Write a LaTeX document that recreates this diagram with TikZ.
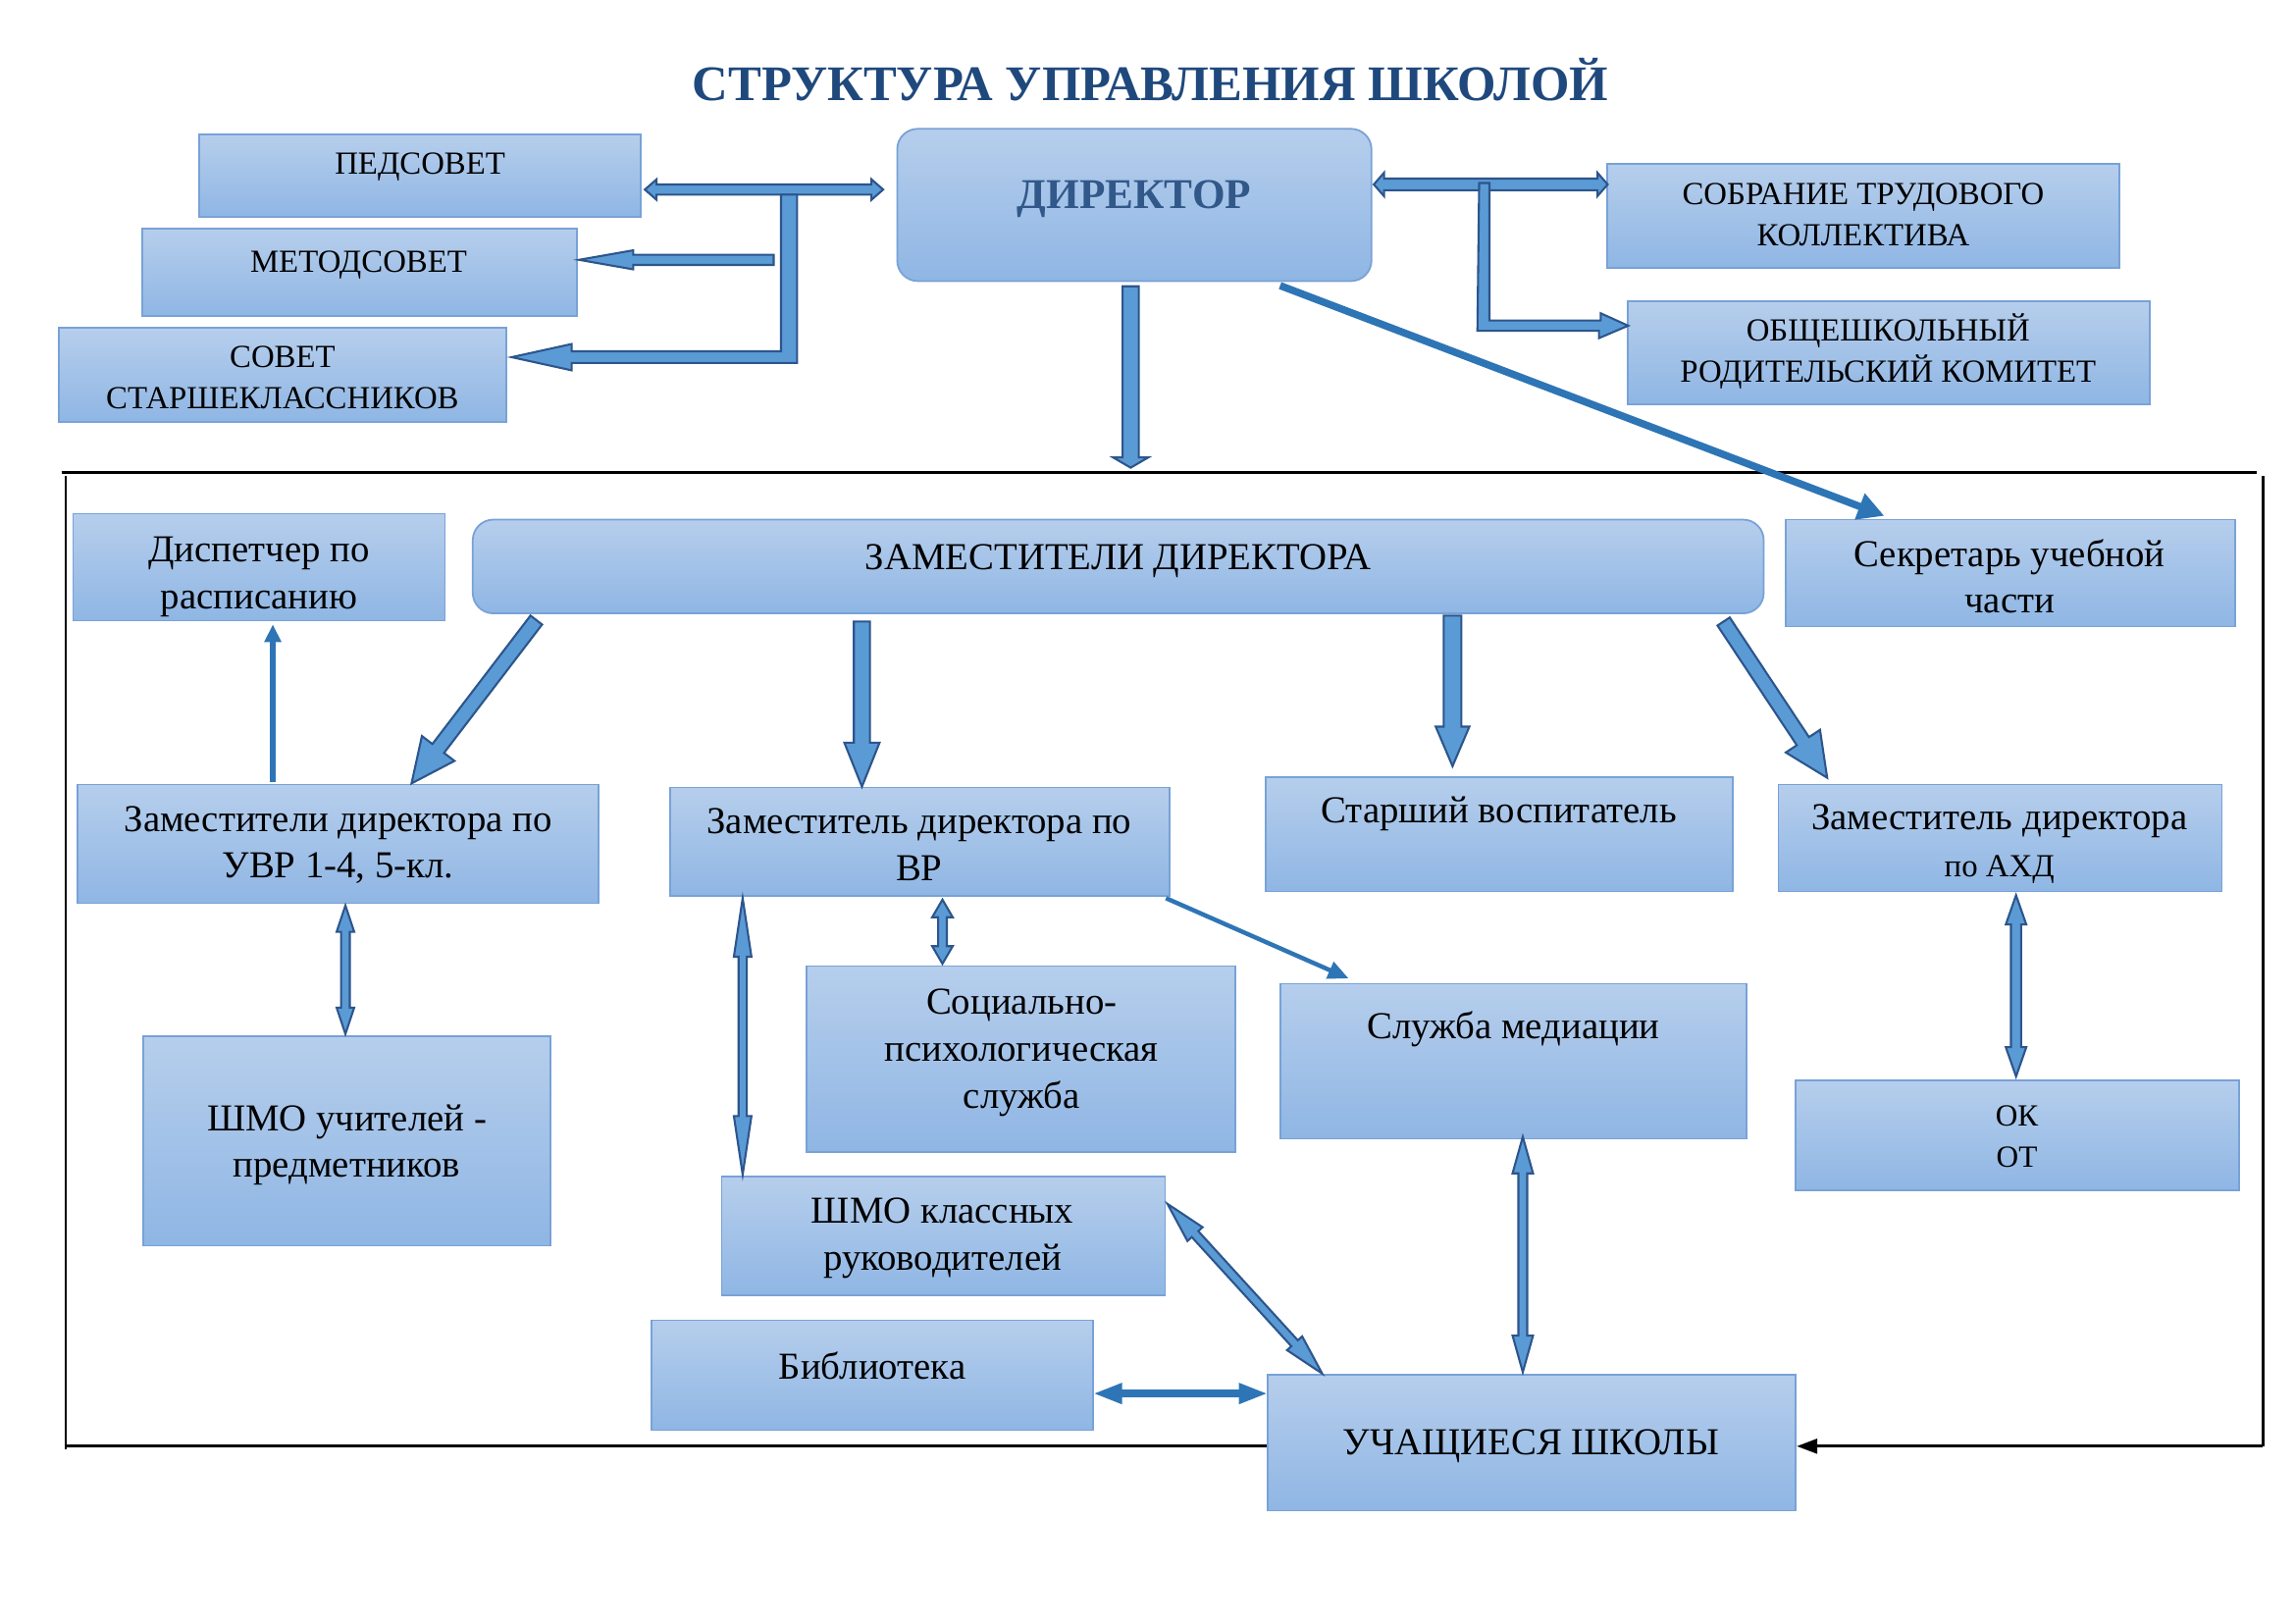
\documentclass[tikz,border=0pt]{standalone}
\usepackage{fontspec}
\setmainfont{Liberation Serif}
\usetikzlibrary{calc,arrows.meta}
\definecolor{boxtop}{RGB}{182,206,236}
\definecolor{boxbot}{RGB}{143,182,228}
\definecolor{boxline}{RGB}{120,162,215}
\definecolor{arrfill}{RGB}{91,155,213}
\definecolor{arrline}{RGB}{45,85,140}
\definecolor{solidarr}{RGB}{46,117,182}
\definecolor{titlecol}{RGB}{31,73,125}
\definecolor{dircol}{RGB}{50,88,138}
\newdimen\bxa \newdimen\bya \newdimen\bxb \newdimen\byb
% single-headed block arrow: [opts]{start}{end}{shaft half}{head half}{head length}
\newcommand\barrow[6][]{%
  \path ($#2$) coordinate (ba-s) ($#3$) coordinate (ba-e);
  \pgfextractx{\bxa}{\pgfpointanchor{ba-s}{center}}%
  \pgfextracty{\bya}{\pgfpointanchor{ba-s}{center}}%
  \pgfextractx{\bxb}{\pgfpointanchor{ba-e}{center}}%
  \pgfextracty{\byb}{\pgfpointanchor{ba-e}{center}}%
  \pgfmathsetmacro\baang{atan2(\byb-\bya,\bxb-\bxa)}%
  \pgfmathsetmacro\balen{veclen(\bxb-\bxa,\byb-\bya)}%
  \begin{scope}[shift={(ba-s)},rotate=\baang]
    \filldraw[blockarr,#1] (0pt,#4) -- (\balen pt-#6,#4) -- (\balen pt-#6,#5)
      -- (\balen pt,0pt) -- (\balen pt-#6,-#5) -- (\balen pt-#6,-#4) -- (0pt,-#4) -- cycle;
  \end{scope}}
% double-headed block arrow
\newcommand\dbarrow[6][]{%
  \path ($#2$) coordinate (ba-s) ($#3$) coordinate (ba-e);
  \pgfextractx{\bxa}{\pgfpointanchor{ba-s}{center}}%
  \pgfextracty{\bya}{\pgfpointanchor{ba-s}{center}}%
  \pgfextractx{\bxb}{\pgfpointanchor{ba-e}{center}}%
  \pgfextracty{\byb}{\pgfpointanchor{ba-e}{center}}%
  \pgfmathsetmacro\baang{atan2(\byb-\bya,\bxb-\bxa)}%
  \pgfmathsetmacro\balen{veclen(\bxb-\bxa,\byb-\bya)}%
  \begin{scope}[shift={(ba-s)},rotate=\baang]
    \filldraw[blockarr,#1] (0pt,0pt) -- (#6,#5) -- (#6,#4) -- (\balen pt-#6,#4) -- (\balen pt-#6,#5)
      -- (\balen pt,0pt) -- (\balen pt-#6,-#5) -- (\balen pt-#6,-#4) -- (#6,-#4) -- (#6,-#5) -- cycle;
  \end{scope}}
\tikzset{
  box/.style={draw=boxline, line width=0.6pt, top color=boxtop, bottom color=boxbot, inner sep=0pt, anchor=center},
  rbox/.style={box, rounded corners=7pt},
  txt/.style={align=center, inner sep=0pt, anchor=center, text=black, yshift=-1.25pt},
  capfont/.style={font=\fontsize{11}{14}\selectfont},
  lowfont/.style={font=\fontsize{13}{16}\selectfont},
  blockarr/.style={fill=arrfill, draw=arrline, line width=0.7pt, line join=miter},
  thinarr/.style={draw=solidarr, fill=solidarr},
  frameline/.style={draw=black, line width=0.9pt},
}
\begin{document}
\begin{tikzpicture}[x=0.5pt,y=-0.5pt]
\useasboundingbox[fill=white] (0,0) rectangle (1568,1109);

% ---------- boxes ----------
\node[box, minimum width=151pt, minimum height=28pt] (ped) at (287,120) {};
\node[box, minimum width=148.5pt, minimum height=30pt] (met) at (245.5,186) {};
\node[box, minimum width=153pt, minimum height=32pt] (sov) at (193,256) {};
\node[rbox, minimum width=162pt, minimum height=52pt] (dir) at (775,140) {};
\node[box, minimum width=175pt, minimum height=35.5pt] (sob) at (1273,147.5) {};
\node[box, minimum width=178.5pt, minimum height=35pt] (rod) at (1290.5,241) {};
\node[box, minimum width=127pt, minimum height=36.5pt] (disp) at (177,387.5) {};
\node[rbox, minimum width=441pt, minimum height=32pt] (zam) at (764,387) {};
\node[box, minimum width=153.5pt, minimum height=36.5pt] (sek) at (1373.5,391.5) {};
\node[box, minimum width=178pt, minimum height=40.5pt] (uvr) at (231,576.5) {};
\node[box, minimum width=170.5pt, minimum height=37pt] (vr) at (628.5,575) {};
\node[box, minimum width=159.5pt, minimum height=39pt] (stv) at (1024.5,570) {};
\node[box, minimum width=151.5pt, minimum height=36.5pt] (ahd) at (1366.5,572.5) {};
\node[box, minimum width=146.5pt, minimum height=63.5pt] (soc) at (697.5,723.5) {};
\node[box, minimum width=159pt, minimum height=53pt] (med) at (1034,725) {};
\node[box, minimum width=139pt, minimum height=71.5pt] (shu) at (237,779.5) {};
\node[box, minimum width=151.5pt, minimum height=37.5pt] (ok) at (1378.5,775.5) {};
\node[box, minimum width=151.5pt, minimum height=40.5pt] (shk) at (644.5,844.5) {};
\node[box, minimum width=151pt, minimum height=37.5pt] (bib) at (596,939.5) {};
\node[box, minimum width=180.5pt, minimum height=46.5pt] (uch) at (1046.5,985.5) {};

% ---------- frame ----------
\coordinate (fTL) at (42,323);
\coordinate (fTR) at (1542,323);
\coordinate (fLtop) at (45,325);
\coordinate (fLbot) at (45,990);
\coordinate (fBL) at (45,988);
\coordinate (fRtop) at (1546,325);
\coordinate (fRbot) at (1546,988);
\draw[frameline] (fTL) -- (fTR);
\draw[frameline] (fLtop) -- (fLbot);
\draw[frameline] (fBL) -- (uch.west |- fBL);
\draw[frameline] (fRtop) -- (fRbot);
\draw[frameline, -{Triangle[length=7pt,width=5pt]}] (fRbot) -- (uch.east |- fRbot);

% ---------- top connectors ----------
\dbarrow{(ped.east)+(2,9.5)}{(dir.west)+(-9,-10.5)}{1.75pt}{3.5pt}{4pt}
\filldraw[blockarr] ($(ped.east)+(95,13)$) -- ++(11,0) -- ++(0,115) -- ++(-154,0) -- ++(0,5)
  -- ($(sov.east)+(3,-12)$) -- ++(41,-9) -- ++(0,5) -- ++(143,0) -- cycle;
\barrow{(met.east)+(134,-8.5)}{(met.east)+(1,-8.5)}{1.75pt}{3.25pt}{18.5pt}
\dbarrow{(dir.east)+(1,-14)}{(sob.west)+(1,-21.5)}{2pt}{4pt}{3.5pt}
\filldraw[blockarr] ($(dir.east)+(73,-15)$) -- ++(7,0) -- ++(0,94) -- ++(76,0) -- ++(0,-5)
  -- ($(rod.west)+(1,-18.5)$) -- ++(-20,8.5) -- ++(0,-5) -- ++(-83,0) -- cycle;
\barrow{(dir.south)+(-2.5,3)}{(dir.south |- fTL)+(-2.5,-3.5)}{2.75pt}{6pt}{3.5pt}
\draw[thinarr, line width=2.5pt, -{Triangle[length=9pt,width=9pt]}]
  ($(dir.south east)+(-63,2.5)$) -- ($(sek.north west)+(68,-2)$);

% ---------- inner connectors ----------
\barrow{(zam.south west)+(44,4)}{(uvr.north)+(50,0)}{2.5pt}{7pt}{15pt}
\barrow{(zam.south west)+(266.5,5)}{(vr.north west)+(131.5,0)}{2.75pt}{6pt}{15pt}
\barrow{(zam.south west)+(670,1)}{(stv.north west)+(128,-7)}{3pt}{5.75pt}{13.5pt}
\barrow{(zam.south east)+(-28,5)}{(ahd.north west)+(34,-4)}{2.5pt}{7pt}{15pt}
\draw[thinarr, line width=1.75pt, -{Triangle[length=6pt,width=5.5pt]}]
  ($(uvr.north west)+(134,-1)$) -- ($(disp.south west)+(137,2)$);
\dbarrow{(uvr.south)+(5,1)}{(shu.north)+(-1,-1)}{1.5pt}{3pt}{9pt}
\dbarrow{(vr.south west)+(186.5,2)}{(soc.north west)+(93.5,-1)}{1.5pt}{3.5pt}{6pt}
\draw[thinarr, line width=1.5pt, -{Triangle[length=7pt,width=6pt]}]
  ($(vr.south east)+(-3,1)$) -- ($(med.north west)+(47,-3)$);
\dbarrow{(vr.south west)+(50,1)}{(shk.north west)+(15,-1)}{1.4pt}{3pt}{20pt}
\dbarrow{(ahd.south west)+(163,2)}{(ok.north west)+(151,-2)}{1.75pt}{3.5pt}{10pt}
\dbarrow{(med.south west)+(166,-2)}{(uch.north west)+(175,-1)}{1.5pt}{3.5pt}{12.5pt}
\dbarrow{(shk.north east)+(1,19)}{(uch.north west)+(38,0)}{1.5pt}{3.5pt}{14pt}
\draw[thinarr, line width=2.5pt, {Triangle[length=10pt,width=6.5pt]}-{Triangle[length=10pt,width=6.5pt]}]
  ($(bib.east)+(-1,12.5)$) -- ($(uch.west)+(1,-33.5)$);

% ---------- texts ----------
\node[txt, text=titlecol, font=\bfseries\fontsize{17}{20}\selectfont] (title) at (786,58) {\strut СТРУКТУРА УПРАВЛЕНИЯ ШКОЛОЙ};
\node[txt, capfont] (ped-t) at (287,111) {\strut ПЕДСОВЕТ};
\node[txt, capfont] (met-t) at (245,178) {\strut МЕТОДСОВЕТ};
\node[txt, capfont] (sov-t) at (193,257) {\strut СОВЕТ\\\strut СТАРШЕКЛАССНИКОВ};
\node[txt, text=dircol, font=\bfseries\fontsize{14.5}{17}\selectfont] (dir-t) at (775,133) {\strut ДИРЕКТОР};
\node[txt, capfont] (sob-t) at (1273,145.5) {\strut СОБРАНИЕ ТРУДОВОГО\\\strut КОЛЛЕКТИВА};
\node[txt, capfont] (rod-t) at (1290,239) {\strut ОБЩЕШКОЛЬНЫЙ\\\strut РОДИТЕЛЬСКИЙ КОМИТЕТ};
\node[txt, lowfont] (disp-t) at (177,391) {\strut Диспетчер по\\\strut расписанию};
\node[txt, lowfont] (zam-t) at (764,380) {\strut ЗАМЕСТИТЕЛИ ДИРЕКТОРА};
\node[txt, lowfont] (sek-t) at (1373,394) {\strut Секретарь учебной\\\strut части};
\node[txt, lowfont] (uvr-t) at (231,575) {\strut Заместители директора по\\\strut УВР 1-4, 5-кл.};
\node[txt, lowfont] (vr-t) at (628,576.5) {\strut Заместитель директора по\\\strut ВР};
\node[txt, lowfont] (stv-t) at (1024,553) {\strut Старший воспитатель};
\node[txt, lowfont] (ahd-t) at (1366,574) {\strut Заместитель директора\\{\fontsize{11}{16}\selectfont\strut по АХД}};
\node[txt, lowfont] (soc-t) at (698,716) {\strut Социально-\\\strut психологическая\\\strut служба};
\node[txt, lowfont] (med-t) at (1034,701) {\strut Служба медиации};
\node[txt, lowfont] (shu-t) at (237,779.5) {\strut ШМО учителей -\\\strut предметников};
\node[txt, font=\fontsize{10.5}{14}\selectfont] (ok-t) at (1378,775) {\strut ОК\\\strut ОТ};
\node[txt, lowfont] (shk-t) at (644,843) {\strut ШМО классных\\\strut руководителей};
\node[txt, lowfont] (bib-t) at (596,933) {\strut Библиотека};
\node[txt, lowfont] (uch-t) at (1046,985) {\strut УЧАЩИЕСЯ ШКОЛЫ};
\end{tikzpicture}
\end{document}
